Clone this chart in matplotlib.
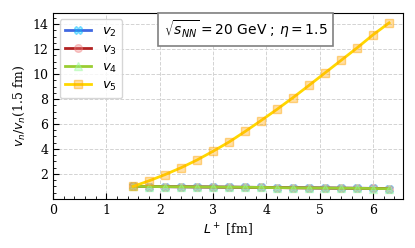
import matplotlib
matplotlib.use("Agg")
import matplotlib.pyplot as plt
from matplotlib.colors import to_rgba

plt.rcParams['font.family'] = 'DejaVu Serif'
plt.rcParams['mathtext.fontset'] = 'dejavusans'

# L+ values in fm
L = [1.5, 1.8, 2.1, 2.4, 2.7, 3.0, 3.3, 3.6, 3.9, 4.2, 4.5, 4.8, 5.1, 5.4, 5.7, 6.0, 6.3]

v2 = [1.0, 0.99, 0.98, 0.97, 0.96, 0.95, 0.94, 0.93, 0.92, 0.91, 0.90, 0.89, 0.87, 0.86, 0.85, 0.84, 0.83]
v3 = [1.0, 0.99, 0.98, 0.97, 0.96, 0.95, 0.94, 0.93, 0.92, 0.91, 0.89, 0.88, 0.87, 0.86, 0.85, 0.84, 0.83]
v4 = [1.0, 0.99, 0.98, 0.97, 0.96, 0.95, 0.94, 0.93, 0.92, 0.90, 0.89, 0.88, 0.87, 0.86, 0.85, 0.83, 0.82]
v5 = [1.0, 1.45, 1.95, 2.5, 3.12, 3.82, 4.56, 5.4, 6.28, 7.18, 8.12, 9.1, 10.1, 11.1, 12.1, 13.15, 14.1]

series = [
    (v2, r'$v_2$', 'royalblue', 'deepskyblue', 'X'),
    (v3, r'$v_3$', 'firebrick', 'lightcoral', 'o'),
    (v4, r'$v_4$', 'yellowgreen', 'palegreen', '^'),
    (v5, r'$v_5$', 'gold', 'orange', 's'),
]

fig = plt.figure(figsize=(4.15, 2.48), dpi=100)
ax = fig.add_axes([0.128, 0.198, 0.843, 0.750])

for vals, lab, c, mc, m in series:
    ax.plot(L, vals, color=c, lw=2, marker=m, markersize=5.5,
            markerfacecolor=to_rgba(mc, 0.35), markeredgecolor=to_rgba(mc, 0.45),
            markeredgewidth=1, label=lab)

ax.set_xlim(0, 6.56)
ax.set_ylim(0, 14.9)
ax.set_xticks([0, 1, 2, 3, 4, 5, 6])
ax.set_yticks([2, 4, 6, 8, 10, 12, 14])
ax.minorticks_on()
ax.tick_params(which='both', direction='in', labelsize=9)
ax.tick_params(which='major', length=4)
ax.tick_params(which='minor', length=2)
ax.grid(True, which='major', ls='--', color='lightgray', lw=0.7)

ax.set_xlabel(r'$L^+$ [fm]', fontsize=9)
ax.set_ylabel(r'$v_n/v_n$(1.5 fm)', fontsize=9)

ax.legend(loc='upper left', prop={'family': 'DejaVu Sans', 'size': 9.5},
          handlelength=2.0, labelspacing=0.3, fancybox=True)

ax.text(0.55, 0.91, r'$\sqrt{s_{NN}} = 20$ GeV ; $\eta = 1.5$', transform=ax.transAxes,
        ha='center', va='center', fontsize=10, family='DejaVu Sans',
        bbox=dict(boxstyle='square,pad=0.4', facecolor='white', edgecolor='gray', lw=1.2))

fig.savefig('out.png', dpi=100)
